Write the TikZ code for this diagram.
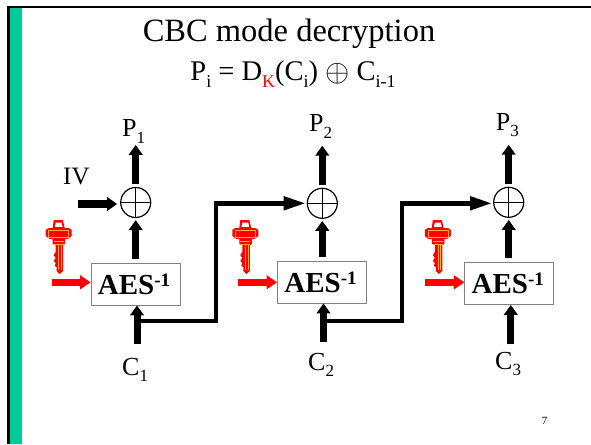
\documentclass[tikz,border=0pt]{standalone}
\usepackage{fontspec}
\setmainfont{Liberation Serif}
\usetikzlibrary{positioning, arrows.meta}
\definecolor{barGreen}{RGB}{0,204,153}
\definecolor{keyLine}{RGB}{255,170,40}
\newcommand{\lowsub}[2][17]{\raisebox{-6.5pt}{\fontsize{#1}{#1}\selectfont #2}}
\newcommand{\highsup}[1]{\raisebox{8pt}{\fontsize{19}{19}\selectfont #1}}

\begin{document}
\begin{tikzpicture}[
    x=1pt, y=-1pt,
    aesbox/.style={
        rectangle,
        draw=black!50,
        line width=0.8pt,
        minimum width=89pt,
        minimum height=42pt,
        inner sep=0pt,
        font=\fontsize{29}{30}\selectfont\bfseries
    },
    xorsym/.style={
        circle,
        draw=black,
        line width=1.2pt,
        minimum size=30pt,
        inner sep=0pt
    },
    lbl/.style={
        anchor=base west,
        font=\fontsize{26}{28}\selectfont,
        inner sep=0pt
    },
    arr/.style={
        line width=7pt,
        -{Triangle[length=10pt,width=13.5pt]}
    },
    feedline/.style={
        line width=4pt
    },
    feedhead/.style={
        line width=5.5pt,
        shorten <=-2pt,
        -{Triangle[length=23pt,width=12.5pt]}
    },
    keyarr/.style={
        red,
        line width=7pt,
        -{Triangle[length=10.5pt,width=13.5pt]}
    },
    keyicon/.pic={
        \fill[red, even odd rule] (-5,0) -- (4,0) -- (6,8) -- (10,8) -- (13,10) -- (13,16) -- (9,19)
            -- (6.5,19) -- (6.5,24) -- (4.5,25) -- (4.5,51) -- (1,54) -- (-2,51) -- (-2,47) -- (-4,46)
            -- (-3,43) -- (-5,41) -- (-3,38) -- (-5,35) -- (-3,32) -- (-3,25) -- (-6,24) -- (-6,19)
            -- (-9,19) -- (-13,16) -- (-13,10) -- (-10,8) -- (-6,8) -- cycle
            (-3,2.5) -- (3,2.5) -- (4,7) -- (-4,7) -- cycle;
        \draw[keyLine, line width=0.5pt] (-10,10) -- (10,10) -- (10,17) -- (-10,17) -- cycle
            (-5,21) -- (5,21) (-5,24) -- (5,24) (0,25) -- (0,50) (2.5,25) -- (2.5,50);
    }
]

% --- slide background ---
\path[use as bounding box] (0,0) rectangle (591,444);
\fill[barGreen] (10,7) rectangle (22,444);
\draw[line width=2.7pt] (8.7,444) -- (8.7,6.7);
\draw[line width=2pt] (7.3,6.7) -- (591,6.7);

% --- heading ---
\node[font=\fontsize{32.5}{36}\selectfont, inner sep=0pt, anchor=base] (title) at (289,41.7) {CBC mode decryption};
\node[font=\fontsize{28.5}{32}\selectfont, inner sep=0pt, anchor=base] (formula) at (293,81)
    {P\lowsub[18]{i} = D\lowsub[18]{\textcolor{red}{K}}(C\lowsub[18]{i}) \raisebox{-1pt}{\scalebox{1.25}{$\oplus$}} C\lowsub[18]{i-1}};

% --- first block ---
\node[aesbox] (aes1) at (135.5,284) {AES\highsup{-1}\hspace*{3pt}};
\node[xorsym] (xor1) at (135.7,202.5) {};
\node[lbl] (p1) at (122,136.7) {P\lowsub{1}};
\node[lbl] (c1) at (122,375) {C\lowsub{1}};
\node[lbl, font=\fontsize{25}{28}\selectfont] (iv) at (63,184) {IV};
\coordinate (ivstart) at (78,204);
\coordinate (kstart1) at (51.7,282.3);

% --- second block ---
\node[aesbox] (aes2) at (322,282) {AES\highsup{-1}\hspace*{3pt}};
\node[xorsym] (xor2) at (322.3,203.3) {};
\node[lbl] (p2) at (309,131.7) {P\lowsub{2}};
\node[lbl] (c2) at (308,370) {C\lowsub{2}};
\coordinate (kstart2) at (238.3,282.3);

% --- third block ---
\node[aesbox] (aes3) at (509.3,283.5) {AES\highsup{-1}\hspace*{3pt}};
\node[xorsym] (xor3) at (508.7,202.3) {};
\node[lbl] (p3) at (495.7,130) {P\lowsub{3}};
\node[lbl] (c3) at (495,369) {C\lowsub{3}};
\coordinate (kstart3) at (425,282.3);

% --- keys ---
\pic at (58.7,220) {keyicon};
\pic at (245.3,220) {keyicon};
\pic at (437.8,220) {keyicon};

% --- arrows ---
\draw[arr, line width=7.5pt, shorten >=3pt] (ivstart) -- (xor1.west |- ivstart);
\foreach \n in {1,2,3} {
    \draw[line width=0.9pt] (xor\n.north) -- (xor\n.south) (xor\n.west) -- (xor\n.east);
    \draw[keyarr] (kstart\n) -- (aes\n.west |- kstart\n);
    \draw[arr] ([yshift=3pt]xor\n.north) -- ([yshift=42pt]xor\n.north);
    \draw[arr] ([yshift=4pt]aes\n.north -| xor\n.south) -- ([yshift=-2pt]xor\n.south);
    \draw[arr] ([xshift=1.5pt,yshift=-39pt]aes\n.south) -- ([xshift=1.5pt]aes\n.south);
}
\coordinate (turn2) at ([xshift=-106.5pt]xor2.center);
\coordinate (turn3) at ([xshift=-106.5pt,yshift=-1pt]xor3.center);
\draw[feedline] ([xshift=1.5pt,yshift=-16pt]aes1.south) -| (turn2);
\draw[feedhead] (turn2) -- (xor2.west);
\draw[feedline] ([xshift=1.5pt,yshift=-18pt]aes2.south) -| (turn3);
\draw[feedhead] (turn3) -- ([yshift=-1pt]xor3.west);

% --- page number ---
\node[font=\fontsize{11}{13}\selectfont, inner sep=0pt, anchor=base] (pagenum) at (544.5,424) {7};

\end{tikzpicture}
\end{document}
